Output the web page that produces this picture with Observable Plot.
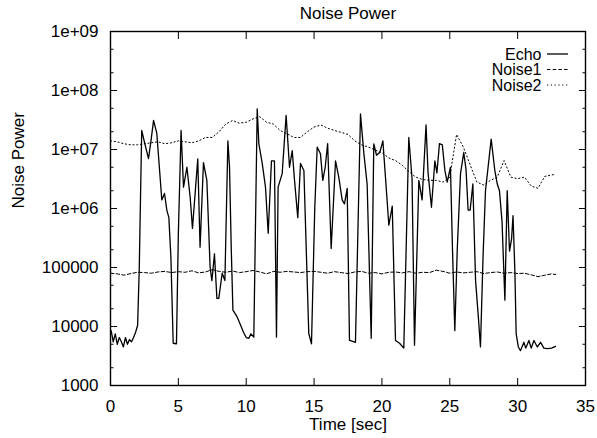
<!DOCTYPE html>
<html>
<head>
<meta charset="utf-8">
<script src="https://cdn.jsdelivr.net/npm/d3@7"></script>
<script src="https://cdn.jsdelivr.net/npm/@observablehq/plot@0.6"></script>
<style>
  html, body { margin: 0; padding: 0; background: #fff; }
  #chart svg { display: block; }
</style>
</head>
<body>
<div id="chart"></div>
<script>
// ---------- data ----------
const chartTitle = "Noise Power";
const xLabel = "Time [sec]";
const yLabel = "Noise Power";
const seriesNames = ["Echo", "Noise1", "Noise2"];

const xTicks = [0, 5, 10, 15, 20, 25, 30, 35];
const yTicks = [1e3, 1e4, 1e5, 1e6, 1e7, 1e8, 1e9];
const yTickLabels = ["1000", "10000", "100000", "1e+06", "1e+07", "1e+08", "1e+09"];
const yMinorTicks = [2e3, 5e3, 2e4, 5e4, 2e5, 5e5, 2e6, 5e6, 2e7, 5e7, 2e8, 5e8];

const echoTime = [0.05,0.2,0.35,0.5,0.65,0.8,0.95,1.1,1.25,1.4,1.55,1.7,1.85,2.0,2.12,2.3,2.55,2.8,3.0,3.17,
  3.41,3.6,3.78,3.98,4.15,4.3,4.45,4.62,4.86,5.0,5.2,5.38,5.63,5.87,6.04,6.25,6.43,6.6,6.85,7.1,
  7.34,7.47,7.66,7.84,7.98,8.23,8.43,8.65,8.77,8.9,9.02,9.3,9.55,9.8,10.0,10.19,10.35,10.56,10.81,10.93,
  11.18,11.42,11.62,11.86,12.08,12.23,12.35,12.65,12.94,13.19,13.39,13.56,13.8,14.0,14.25,14.61,14.81,15.05,15.23,15.47,
  15.64,15.82,16.0,16.26,16.58,16.82,17.07,17.24,17.44,17.61,17.85,18.05,18.42,18.67,18.91,19.21,19.4,19.6,19.85,20.07,
  20.26,20.51,20.76,21.0,21.3,21.61,21.98,22.22,22.4,22.72,22.96,23.25,23.4,23.65,23.9,24.05,24.24,24.45,24.64,24.81,
  25.05,25.2,25.37,25.55,25.79,26.03,26.2,26.35,26.5,26.7,26.9,27.1,27.26,27.45,27.63,28.05,28.32,28.5,28.66,28.85,
  29.06,29.23,29.4,29.55,29.66,29.8,29.89,30.05,30.21,30.46,30.6,30.83,31.0,31.2,31.45,31.69,31.93,32.2,32.5,32.79];
const echoValue = [8500,5500,7500,5000,6500,5500,4500,6500,5000,6000,5500,6500,8000,10500,1.0e5,2.1e7,1.2e7,7e6,1.5e7,3.1e7,
  1.9e7,5e6,1.4e6,1.8e6,9.4e5,7e5,1.5e5,5200,5100,3.8e5,2.1e7,2.3e6,5e6,1.55e6,4.6e5,2e6,6.9e6,2.2e5,6e6,3e6,
  1e5,6e4,1.7e5,3e4,3e4,8e4,6e4,1.4e7,5e6,2e5,1.9e4,1.5e4,1.1e4,8000,6500,6300,7500,6600,4.9e7,1.26e7,
  5.8e6,2.3e6,3.8e5,6.4e6,6.4e6,6600,2.3e6,3.9e6,3.8e7,5e6,9.6e6,3e6,7e5,5.8e6,4.4e6,7600,5100,1e6,1.1e7,8.5e6,
  3e6,5e6,1.26e7,2.1e5,6.4e6,3.4e6,1.4e6,1.2e6,2.2e6,5800,5600,5400,4e7,8.5e6,2.6e6,6300,1.25e7,8e6,9e6,1.4e7,
  3.4e6,5.2e5,1.1e6,5800,5200,4300,1.6e7,3.2e6,4800,3e6,1.4e6,2.6e7,4e6,1.05e6,6.4e6,4e6,1.26e7,1.2e7,4.4e6,2.8e6,
  5e6,2e5,8500,2e5,3.9e6,8.9e6,4.5e6,9.4e5,9.4e5,2.6e6,6e4,1.5e4,4500,1.5e5,2e6,1.5e7,4.4e6,2.6e6,2e6,6e5,
  2.8e4,2e6,1.9e5,3e5,7.6e5,8e4,7600,4500,3900,5400,4300,5800,4300,5800,4500,5400,4300,4200,4300,4600];

const noiseTime = [0,0.5,1,1.5,2,2.5,3,3.5,4,4.5,5,5.5,6,6.5,7,7.5,8,8.5,9,9.5,10,10.5,11,11.5,12,12.5,13,13.5,14,14.5,
  15,15.5,16,16.5,17,17.5,18,18.5,19,19.5,20,20.5,21,21.5,22,22.5,23,23.5,24,24.5,25,25.5,26,26.5,27,27.5,28,28.5,29,29.5,
  30,30.5,31,31.5,32,32.5,32.8];
const noise1Value = [80000,78000,74000,79000,83000,82000,80000,84000,86000,82000,85000,83000,88000,81000,84000,92000,86000,83000,87000,82000,
  85000,89000,84000,78000,86000,83000,86000,84000,82000,85000,86000,83000,80000,85000,82000,79000,84000,86000,80000,82000,
  78000,83000,84000,81000,85000,80000,83000,82000,90000,86000,80000,84000,81000,83000,85000,79000,82000,84000,80000,82000,
  79000,80000,75000,70000,74000,78000,76000];
const noise2Value = [1.4e7,1.35e7,1.25e7,1.2e7,1.2e7,1.25e7,1.3e7,1.35e7,1.25e7,1.3e7,1.4e7,1.35e7,1.3e7,1.4e7,1.6e7,1.6e7,2.0e7,2.7e7,3.1e7,2.8e7,
  2.9e7,3.3e7,3.6e7,2.9e7,2.7e7,2.1e7,1.85e7,1.6e7,1.6e7,2.0e7,2.4e7,2.6e7,2.3e7,2.1e7,1.95e7,1.8e7,1.4e7,1.2e7,1.1e7,9.8e6,
  8.8e6,7.2e6,6.5e6,5.4e6,4.2e6,3.4e6,3.1e6,3.0e6,3.0e6,2.8e6,3.4e6,1.8e7,1.1e7,5.5e6,2.8e6,2.5e6,3.0e6,3.4e6,6.5e6,3.4e6,
  3.2e6,3.4e6,2.4e6,2.2e6,3.5e6,3.7e6,3.8e6];

// ---------- build rows ----------
const echoRows = echoTime.map((t, i) => ({t, v: echoValue[i]}));
const noise1Rows = noiseTime.map((t, i) => ({t, v: noise1Value[i]}));
const noise2Rows = noiseTime.map((t, i) => ({t, v: noise2Value[i]}));

const dashes = ["none", "3.5,2.2", "1.2,2.6"];
const widths = [1.3, 1.0, 1.0];

const fontFamily = "'Liberation Sans', Arial, Helvetica, sans-serif";

const chart = Plot.plot({
  width: 597,
  height: 438,
  marginLeft: 110,
  marginRight: 12,
  marginTop: 31,
  marginBottom: 53,
  style: {fontFamily, fontSize: "17px", background: "#fff", color: "#000", overflow: "visible"},
  x: {domain: [0, 35]},
  y: {type: "log", domain: [1e3, 1e9]},
  marks: [
    // labels
    Plot.axisY(yTicks, {anchor: "left", tickSize: 0, tickPadding: 12, fontSize: 17,
      tickFormat: d => yTickLabels[yTicks.indexOf(d)], label: null}),
    Plot.axisX(xTicks, {anchor: "bottom", tickSize: 0, tickPadding: 14, fontSize: 17, label: null}),
    // inward ticks
    Plot.axisY(yTicks, {anchor: "left", tickSize: -7, tickFormat: () => "", label: null}),
    Plot.axisY(yTicks, {anchor: "right", tickSize: -7, tickFormat: () => "", label: null}),
    Plot.axisY(yMinorTicks, {anchor: "left", tickSize: -3.5, tickFormat: () => "", label: null}),
    Plot.axisY(yMinorTicks, {anchor: "right", tickSize: -3.5, tickFormat: () => "", label: null}),
    Plot.axisX(xTicks, {anchor: "bottom", tickSize: -7, tickFormat: () => "", label: null}),
    Plot.axisX(xTicks, {anchor: "top", tickSize: -7, tickFormat: () => "", label: null}),
    // series
    Plot.line(noise2Rows, {x: "t", y: "v", stroke: "#000", strokeWidth: widths[2], strokeDasharray: dashes[2]}),
    Plot.line(noise1Rows, {x: "t", y: "v", stroke: "#000", strokeWidth: widths[1], strokeDasharray: dashes[1]}),
    Plot.line(echoRows, {x: "t", y: "v", stroke: "#000", strokeWidth: widths[0]}),
    Plot.frame({stroke: "#000", strokeWidth: 1.4}),
    // titles
    Plot.text([chartTitle], {frameAnchor: "top", dy: -18, fontSize: 17, lineAnchor: "middle"}),
    Plot.text([xLabel], {frameAnchor: "bottom", dy: 39, fontSize: 17, lineAnchor: "middle"}),
    Plot.text([yLabel], {frameAnchor: "left", dx: -92, rotate: -90, fontSize: 17, lineAnchor: "middle"}),
    // legend labels
    ...seriesNames.map((name, i) =>
      Plot.text([name], {frameAnchor: "top-right", dx: -44, dy: 23 + 15.5 * i, textAnchor: "end",
        lineAnchor: "middle", fontSize: 16}))
  ]
});

document.getElementById("chart").appendChild(chart);

// legend line samples
const svg = d3.select(chart);
const frameRight = 597 - 12;
const frameTop = 31;
seriesNames.forEach((name, i) => {
  svg.append("line")
    .attr("x1", frameRight - 38).attr("x2", frameRight - 17)
    .attr("y1", frameTop + 23 + 15.5 * i).attr("y2", frameTop + 23 + 15.5 * i)
    .attr("stroke", "#000")
    .attr("stroke-width", widths[i])
    .attr("stroke-dasharray", dashes[i]);
});
</script>
</body>
</html>
